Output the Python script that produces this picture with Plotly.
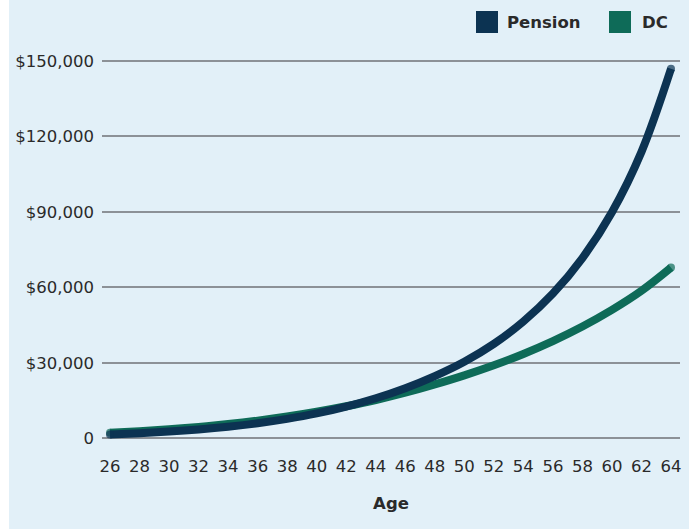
import plotly.graph_objects as go

# Projected annual value by age
ages = [26, 28, 30, 32, 34, 36, 38, 40, 42, 44, 46, 48, 50, 52, 54, 56, 58, 60, 62, 64]
pension = [1500, 2000, 2650, 3500, 4580, 5950, 7680, 9850, 12600, 15900, 19900, 24700,
           30400, 37500, 46400, 57500, 71600, 89800, 113800, 146800]
dc = [2200, 2820, 3580, 4510, 5640, 7000, 8600, 10500, 12700, 15200, 18100, 21400,
      25000, 29000, 33500, 38600, 44400, 51000, 58600, 67800]

y_ticks = [0, 30000, 60000, 90000, 120000, 150000]
y_tick_text = ["0", "$30,000", "$60,000", "$90,000", "$120,000", "$150,000"]
x_ticks = ages

series_names = ["Pension", "DC"]
NAVY = "#0c3352"
GREEN = "#0e6b58"
BG = "#e2f0f8"
GRID = "#8c9197"
TEXT = "#2a2a2a"

W, H = 693, 529
ML, MR, MT, MB = 102, 13, 57, 87
PW, PH = W - ML - MR, H - MT - MB


def px_x(px):
    return (px - ML) / PW


def px_y(py):
    return (H - MB - py) / PH


fig = go.Figure()
for name, vals, col in [(series_names[1], dc, GREEN), (series_names[0], pension, NAVY)]:
    fig.add_trace(go.Scatter(
        x=ages, y=vals, name=name, mode="lines+markers",
        line=dict(color=col, width=8, shape="spline", smoothing=1),
        # round off the two ends of each line
        marker=dict(color=col, size=[8] + [0] * (len(vals) - 2) + [8],
                    line=dict(width=0)),
        showlegend=False, hoverinfo="x+y",
    ))

shapes = [
    dict(type="rect", xref="paper", yref="paper", layer="below",
         x0=px_x(9), x1=px_x(689), y0=px_y(H), y1=px_y(0),
         fillcolor=BG, line=dict(width=0)),
]
annotations = []

# Legend: colour squares with bold labels
legend_items = [(series_names[0], NAVY, 476, 505), (series_names[1], GREEN, 609, 640)]
for name, col, sx, tx in legend_items:
    shapes.append(dict(type="rect", xref="paper", yref="paper",
                       x0=px_x(sx), x1=px_x(sx + 22), y0=px_y(33), y1=px_y(11),
                       fillcolor=col, line=dict(width=0)))
    annotations.append(dict(xref="paper", yref="paper", x=px_x(tx), y=px_y(22),
                            xanchor="left", yanchor="middle", showarrow=False,
                            text=f"<b>{name}</b>",
                            font=dict(family="DejaVu Sans", size=16.5, color=TEXT)))

fig.update_layout(
    width=W, height=H,
    margin=dict(l=ML, r=MR, t=MT, b=MB, pad=0),
    paper_bgcolor="white",
    plot_bgcolor="rgba(0,0,0,0)",
    font=dict(family="DejaVu Sans", size=16.5, color=TEXT),
    shapes=shapes,
    annotations=annotations,
    showlegend=False,
    xaxis=dict(
        range=[25.458, 64.61],
        tickvals=x_ticks,
        ticktext=[str(a) for a in x_ticks],
        showgrid=False, zeroline=False, showline=False,
        ticks="", ticklabelstandoff=12,
        tickfont=dict(size=16.5, color=TEXT),
        title=dict(text="<b>Age</b>", font=dict(size=16.5, color=TEXT), standoff=22),
    ),
    yaxis=dict(
        range=[-1500, 151500],
        tickvals=y_ticks,
        ticktext=y_tick_text,
        showgrid=True, gridcolor=GRID, gridwidth=1.5,
        zeroline=False, showline=False,
        ticks="", ticklabelstandoff=7,
        tickfont=dict(size=16.5, color=TEXT),
    ),
)

fig.write_html("out.html")
